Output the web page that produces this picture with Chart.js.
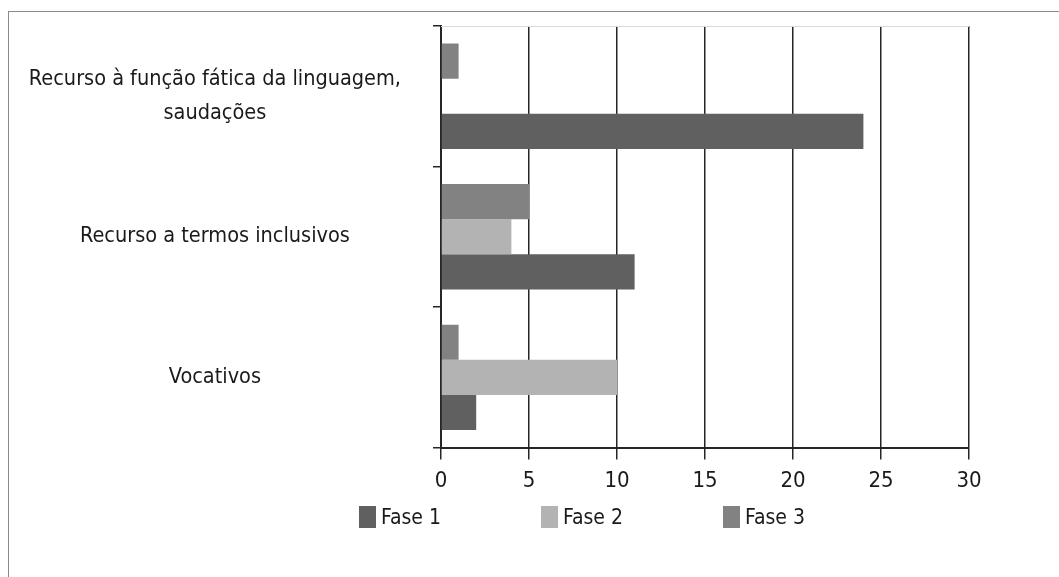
<!DOCTYPE html>
<html>
<head>
<meta charset="utf-8">
<script src="https://cdn.jsdelivr.net/npm/chart.js@4"></script>
<style>
  html, body { margin: 0; padding: 0; background: #fff; }
  #wrap { position: absolute; left: 0; top: 0; width: 1059px; height: 577px; }
  #frame { position: absolute; left: 8px; top: 11px; width: 1051px; height: 566px;
           border-left: 1.5px solid #8a8a8a; border-top: 1.5px solid #8a8a8a; box-sizing: border-box; pointer-events: none; }
  #legend { position: absolute; left: 359px; top: 506px; display: flex;
            font-family: 'DejaVu Sans Condensed', 'DejaVu Sans', sans-serif;
            font-size: 21px; color: #1a1a1a; }
  .item { width: 182px; display: flex; align-items: center; height: 22px; }
  .sw { width: 17px; height: 22px; margin-right: 5px; flex: none; }
</style>
</head>
<body>
<div id="wrap"><canvas id="c"></canvas></div>
<div id="frame"></div>
<div id="legend"></div>
<script>
const categories = [
  ['Recurso à função fática da linguagem,', 'saudações'],
  'Recurso a termos inclusivos',
  'Vocativos'
];
const seriesNames = ['Fase 1', 'Fase 2', 'Fase 3'];
const fase1 = [24, 11, 2];
const fase2 = [0, 4, 10];
const fase3 = [1, 5, 1];
const colors = ['#606060', '#b3b3b3', '#828282'];
const xTicks = [0, 5, 10, 15, 20, 25, 30];

const FONT = "'DejaVu Sans Condensed', 'DejaVu Sans', sans-serif";
const seriesValues = [fase1, fase2, fase3];

// Within each band: Fase 3 on top, Fase 1 at the bottom
const datasets = [2, 1, 0].map(i => ({
  label: seriesNames[i],
  data: seriesValues[i],
  backgroundColor: colors[i],
  borderWidth: 0,
  categoryPercentage: 0.75,
  barPercentage: 1.0
}));

const topBorder = {
  id: 'topBorder',
  afterDraw(chart) {
    const {ctx, chartArea} = chart;
    ctx.save();
    ctx.strokeStyle = '#dadada';
    ctx.lineWidth = 1;
    ctx.beginPath();
    ctx.moveTo(chartArea.left, chartArea.top + 0.5);
    ctx.lineTo(chartArea.right, chartArea.top + 0.5);
    ctx.stroke();
    ctx.restore();
  }
};

const chart = new Chart(document.getElementById('c'), {
  type: 'bar',
  data: { labels: categories, datasets },
  options: {
    indexAxis: 'y',
    responsive: true,
    maintainAspectRatio: false,
    animation: false,
    layout: { padding: { left: 10, right: 90, top: 26, bottom: 75 } },
    plugins: { legend: { display: false }, tooltip: { enabled: false } },
    scales: {
      x: {
        min: 0, max: 30,
        afterBuildTicks: (s) => { s.ticks = xTicks.map(v => ({ value: v })); },
        grid: { color: '#262626', lineWidth: 1.5, tickLength: 12, drawTicks: true },
        border: { color: '#262626', width: 2 },
        ticks: { color: '#1a1a1a', padding: 8, font: { family: FONT, size: 22 } }
      },
      y: {
        grid: { drawOnChartArea: false, drawTicks: true, tickLength: 8, color: '#262626', lineWidth: 1.5, offset: true },
        border: { color: '#262626', width: 2 },
        afterFit: (s) => { s.width = 431; s.paddingTop = 0; s.paddingBottom = 0; },
        ticks: { color: '#1a1a1a', padding: 32, crossAlign: 'center', font: { family: FONT, size: 21.5, lineHeight: 1.58 } }
      }
    }
  },
  plugins: [topBorder]
});

// Legend in Fase 1, Fase 2, Fase 3 order
const legend = document.getElementById('legend');
seriesNames.forEach((name, i) => {
  const item = document.createElement('div');
  item.className = 'item';
  const sw = document.createElement('span');
  sw.className = 'sw';
  sw.style.background = colors[i];
  const t = document.createElement('span');
  t.textContent = name;
  item.appendChild(sw);
  item.appendChild(t);
  legend.appendChild(item);
});
</script>
</body>
</html>
